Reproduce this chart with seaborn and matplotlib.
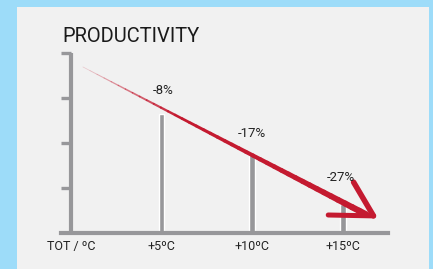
import matplotlib
matplotlib.use("Agg")
import matplotlib.pyplot as plt
import numpy as np
import seaborn as sns
import pandas as pd
from matplotlib.collections import LineCollection

# data
temps = [5, 10, 15]
productivity = [2.64, 1.76, 0.64]
change_labels = ["-8%", "-17%", "-27%"]
label_pos_x = [5.1, 10.0, 14.9]
label_pos_y = [3.16, 2.22, 1.24]
tick_pos = [0, 5, 10, 15]
tick_labels = ["TOT / ºC", "+5ºC", "+10ºC", "+15ºC"]
arrow_start = (0.66, 3.69)
arrow_tip = (16.7, 0.38)
wing_a = (15.6, 1.13)
wing_b = (14.2, 0.40)

BLUE = "#9ddcf9"
PANEL = "#f1f1f1"
GRAY = "#97979a"
RED = "#c41a30"

sns.set_style("white")
plt.rcParams["font.family"] = ["Roboto", "DejaVu Sans"]

W, H = 433, 269
fig = plt.figure(figsize=(W / 100, H / 100), dpi=100, facecolor=BLUE)
fig.patches.append(plt.Rectangle((17 / W, 0), (429 - 17) / W, (H - 7) / H,
                                 transform=fig.transFigure, facecolor=PANEL,
                                 edgecolor="none", zorder=-1))

ax = fig.add_axes([61 / W, (H - 233) / H, (388 - 61) / W, (233 - 53) / H])
ax.set_zorder(2)
ax.set_facecolor("none")

df = pd.DataFrame({"temp": temps, "prod": productivity})
sns.barplot(data=df, x="temp", y="prod", native_scale=True, width=0.065,
            color=GRAY, saturation=1, ax=ax)

ax.set_xlim(-0.55, 17.5)
ax.set_ylim(0, 4)

for s in ["top", "right"]:
    ax.spines[s].set_visible(False)
ax.spines["left"].set_position(("data", 0))
ax.spines["left"].set_color(GRAY)
ax.spines["left"].set_linewidth(3)
ax.spines["bottom"].set_color(GRAY)
ax.spines["bottom"].set_linewidth(3)
ax.spines["left"].set_capstyle("butt")

ax.set_yticks([1, 2, 3, 4])
ax.set_yticklabels([])
ax.tick_params(axis="y", direction="out", length=7.2, width=2.4, color=GRAY, left=True)
ax.set_xticks(tick_pos)
ax.set_xticklabels(tick_labels, fontsize=9, color="#222222")
ax.tick_params(axis="x", length=0, pad=5)
ax.set_xlabel("")
ax.set_ylabel("")

# tapered hand-drawn arrow shaft
n = 40
xs = np.linspace(arrow_start[0], arrow_tip[0] - 0.4, n + 1)
ys = np.linspace(arrow_start[1], arrow_tip[1] + 0.03, n + 1)
segs = [[(xs[i], ys[i]), (xs[i + 1], ys[i + 1])] for i in range(n)]
widths = np.linspace(0.5, 4.6, n)
alphas = np.clip(np.linspace(0.2, 2.6, n), 0, 1)
cols = [(0.77, 0.10, 0.19, a) for a in alphas]
ax.add_collection(LineCollection(segs, linewidths=widths, colors=cols,
                                 capstyle="round", zorder=3))
ax.plot([wing_a[0], arrow_tip[0]], [wing_a[1], arrow_tip[1]], color=RED,
        lw=4, solid_capstyle="round", zorder=3)
ax.plot([wing_b[0], arrow_tip[0]], [wing_b[1], arrow_tip[1]], color=RED,
        lw=3.6, solid_capstyle="round", zorder=3)

for lx, ly, t in zip(label_pos_x, label_pos_y, change_labels):
    ax.text(lx, ly, t, ha="center", va="center", fontsize=9.5, color="#222222", zorder=4)

fig.text(62 / W, (H - 37) / H, "PRODUCTIVITY", ha="left", va="center",
         fontsize=14.5, color="#1a1a1a")

fig.savefig("out.png", dpi=100, facecolor=BLUE)
